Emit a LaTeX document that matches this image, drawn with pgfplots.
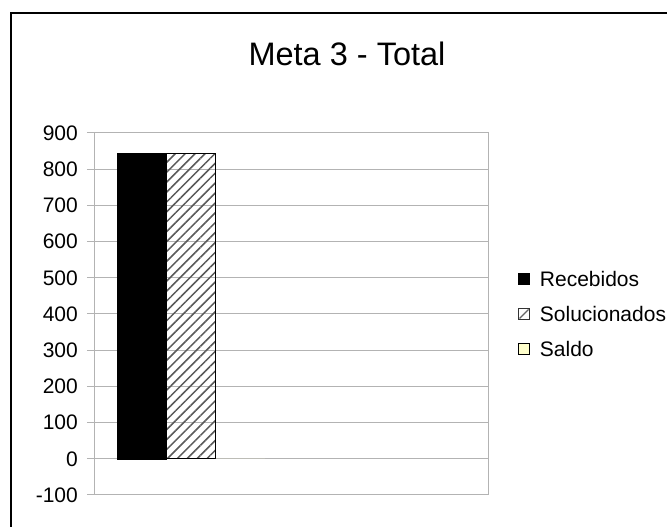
\documentclass[border=0pt]{standalone}
\usepackage{pgfplots}
\pgfplotsset{compat=1.18}
\usepackage{fontspec}
\setmainfont{Liberation Sans}
\usetikzlibrary{patterns.meta}
\definecolor{gridgray}{HTML}{B3B3B3}
\definecolor{saldo}{HTML}{FFFFCC}
\begin{document}
\begin{tikzpicture}[x=1pt,y=1pt]
\useasboundingbox (0,0) rectangle (667,527);
\draw[line width=1.2pt] (11,-5) -- (11,514) -- (680,514);
\node[anchor=base, inner sep=0pt, font=\fontsize{32.5}{38}\selectfont] at (347,461) {Meta 3 - Total};
\begin{axis}[
  at={(94pt,32pt)}, anchor=south west, scale only axis, width=394pt, height=362pt,
  xmin=0.508, xmax=2.508, ymin=-100, ymax=900,
  ytick={-100,0,...,900}, xtick=\empty,
  ymajorgrids, grid style={gridgray, line width=1pt},
  axis line style={gridgray, line width=1pt},
  y tick style={gridgray, line width=1pt}, major tick length=7pt, tick align=outside,
  ytick pos=left,
  /pgf/number format/assume math mode=true,
  yticklabel style={font=\fontsize{21}{25}\selectfont, inner sep=0pt, xshift=-9pt},
  ybar=0pt, bar width=0.25,
  legend style={at={(1.076,0.5)}, anchor=west, draw=none, fill=none, inner sep=0pt,
    font=\fontsize{21}{25}\selectfont, row sep=20pt, column sep=0pt,
    nodes={inner sep=0pt, text height=15pt, text depth=0pt}},
  legend cell align=left,
  /tikz/every odd column/.append style={column sep=10pt},
]
\addplot[fill=black, draw=black,
  legend image code/.code={\draw[fill=black, draw=black] (0pt,-5.5pt) rectangle (11pt,5.5pt);}]
  coordinates {(1,843)};
\addlegendentry{Recebidos}
\addplot[draw=black, line width=1pt, pattern={Lines[angle=45, distance=7pt, line width=1.5pt]}, pattern color=black!65,
  legend image code/.code={\draw[fill=white, draw=black!80, line width=0.8pt] (0pt,-5.5pt) rectangle (11pt,5.5pt); \draw[black!60, line width=1.3pt] (1pt,-4.5pt) -- (10pt,4.5pt);}]
  coordinates {(1,843)};
\addlegendentry{Solucionados}
\addplot[fill=saldo, draw=none,
  legend image code/.code={\draw[fill=saldo, draw=black, line width=0.8pt] (0pt,-5.5pt) rectangle (11pt,5.5pt);}]
  coordinates {(1,0)};
\addlegendentry{Saldo}
\end{axis}
\end{tikzpicture}
\end{document}
